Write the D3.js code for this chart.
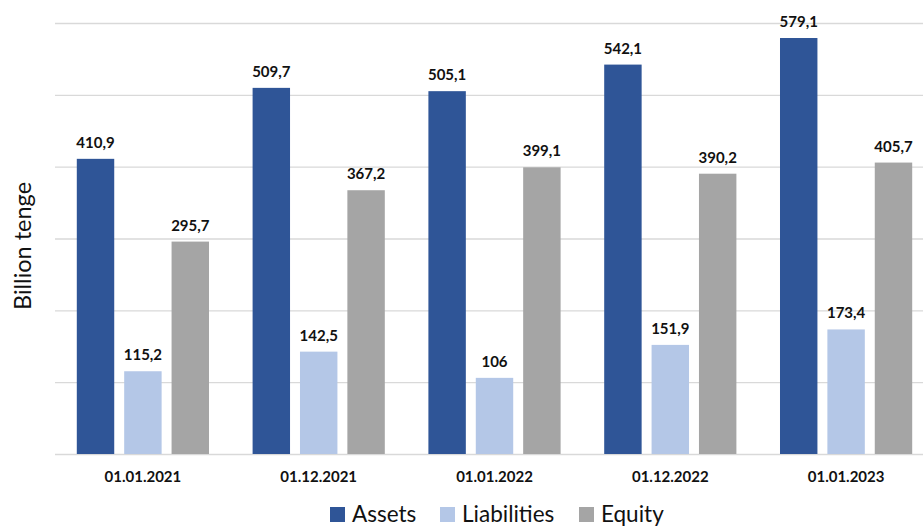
<html>
<head>
<title> Balance chart </title>
<script src="https://d3js.org/d3.v7.min.js"></script>
<style>
body {
  margin: 0;
  background: white;
}
.gridlines line {
  stroke: #d9d9d9;
  stroke-width: 1.3;
}
.gridlines .domain {
  stroke: none;
}
text {
  font-family: Lato, "Open Sans", sans-serif;
  fill: #111;
}
</style>
</head>
<body>
<svg id="barchart" height="527" width="923"></svg>
<script>

// data
const dates = ["01.01.2021", "01.12.2021", "01.01.2022", "01.12.2022", "01.01.2023"];
const series = ["Assets", "Liabilities", "Equity"];
const assets = [410.9, 509.7, 505.1, 542.1, 579.1];
const liabilities = [115.2, 142.5, 106, 151.9, 173.4];
const equity = [295.7, 367.2, 399.1, 390.2, 405.7];
const yTicks = [0, 100, 200, 300, 400, 500, 600];

const colors = {"Assets": "#2F5597", "Liabilities": "#B4C7E7", "Equity": "#A5A5A5"};

const svg = d3.select("svg#barchart");
const margin = {top: 23, left: 55, bottom: 73};
const plotRight = 934;   // the chart runs a bit past the right edge
const baseY = 527 - margin.bottom;

const data = dates.map((d, i) => ({
  date: d,
  values: [
    {key: "Assets", value: assets[i]},
    {key: "Liabilities", value: liabilities[i]},
    {key: "Equity", value: equity[i]}
  ]
}));

//scales
const yScale = d3.scaleLinear().domain([0, 600]).range([baseY, margin.top]);
const dateScale = d3.scaleBand().domain(dates).range([margin.left, plotRight]).padding(0);
const seriesScale = d3.scaleBand().domain(series).range([0, dateScale.bandwidth()])
                      .paddingInner(0.21).paddingOuter(0.46);

//gridlines
let gridlines = d3.axisLeft(yScale)
                  .tickValues(yTicks)
                  .tickSize(-(plotRight - margin.left))
                  .tickFormat("");
svg.append("g")
   .attr("class", "gridlines")
   .attr("transform", `translate(${margin.left},0)`)
   .call(gridlines);

//bars
const groups = svg.selectAll("g.group")
  .data(data)
  .enter().append("g").attr("class", "group")
  .attr("transform", d => `translate(${dateScale(d.date)},0)`);

groups.selectAll("rect.bar")
  .data(d => d.values)
  .enter().append("rect").attr("class", "bar")
  .attr("x", d => seriesScale(d.key))
  .attr("y", d => yScale(d.value))
  .attr("width", seriesScale.bandwidth())
  .attr("height", d => yScale(0) - yScale(d.value))
  .attr("fill", d => colors[d.key]);

//numbers above bars
groups.selectAll("text.val")
  .data(d => d.values)
  .enter().append("text").attr("class", "val")
  .attr("x", d => seriesScale(d.key) + seriesScale.bandwidth() / 2)
  .attr("y", d => yScale(d.value) - 11)
  .attr("text-anchor", "middle")
  .attr("font-size", "15px")
  .attr("font-weight", "bold")
  .text(d => String(d.value).replace(".", ","));

//x axis labels
let bottomAxis = d3.axisBottom(dateScale).tickSize(0).tickPadding(0);
const xAxis = svg.append("g")
   .attr("class", "x axis")
   .attr("transform", `translate(0,${baseY})`)
   .call(bottomAxis);
xAxis.select(".domain").remove();
xAxis.selectAll("text")
   .attr("y", 27.5)
   .attr("dy", null)
   .attr("font-size", "15px")
   .attr("font-weight", "bold")
   .style("font-family", "Lato, sans-serif")
   .attr("fill", "#111");

//y label
svg.append("text")
   .attr("text-anchor", "middle")
   .attr("transform", "translate(31,246) rotate(-90)")
   .attr("font-size", "23.5px")
   .text("Billion tenge");

//legend
const legendX = [330, 440, 579];
const legend = svg.append("g").attr("class", "legend");
series.forEach((s, i) => {
  legend.append("rect")
        .attr("x", legendX[i]).attr("y", 507)
        .attr("width", 15).attr("height", 15)
        .attr("fill", colors[s]);
  legend.append("text")
        .attr("x", legendX[i] + 22).attr("y", 522)
        .attr("font-size", "22.5px")
        .text(s);
});

</script>
</body>
</html>
